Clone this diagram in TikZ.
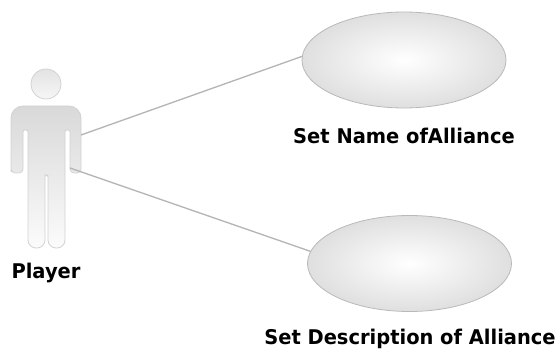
\documentclass[tikz,border=0pt]{standalone}
\usepackage{fontspec}
\setmainfont{DejaVu Sans}[FakeStretch=0.96]
\usetikzlibrary{shapes.geometric}
\tikzset{
	usecase/.style={ellipse,draw=gray!55,line width=0.6pt,inner color=white,outer color=gray!25,minimum width=153pt,minimum height=72pt,inner sep=0pt},
	actor/.style={draw=gray!35,line width=0.6pt,top color=gray!30,bottom color=gray!3},
	assoc/.style={draw=gray!58,line width=1pt},
	caption/.style={font=\fontsize{15.2}{17}\selectfont\bfseries,text=black,inner sep=0pt}
}
\begin{document}
\begin{tikzpicture}[x=0.75pt,y=-0.75pt]
	\useasboundingbox (0,0) rectangle (558,352);

	\node[usecase] (name) at (404,60) {};
	\node[usecase] (desc) at (409.5,263.5) {};

	\node[caption] (namelabel) at (404,136) {Set Name ofAlliance};
	\node[caption] (desclabel) at (410,339) {Set Description of Alliance};
	\node[caption] (player) at (46,273) {Player};

	\node[circle,actor,minimum size=22.5pt,inner sep=0pt,top color=gray!22,bottom color=gray!7] (head) at (46,84) {};
	\path[actor] (11,168) [rounded corners=9pt] -- (11,106) -- (81,106) [rounded corners=3pt] -- (81,173) -- (70,173) [rounded corners=1.5pt] -- (70,130) -- (65,130) [rounded corners=6pt] -- (65,248) -- (48,248) [rounded corners=1.5pt] -- (48,175) -- (45,175) [rounded corners=6pt] -- (45,248) -- (28,248) [rounded corners=1.5pt] -- (28,130) -- (23,130) [rounded corners=3pt] -- (23,173) -- (11,173) -- cycle;

	\coordinate (armtop) at (81,135);
	\coordinate (armlow) at (70,168);

	\draw[assoc] (armtop) -- (name.178);
	\draw[assoc] (armlow) -- (desc.173);
\end{tikzpicture}
\end{document}
